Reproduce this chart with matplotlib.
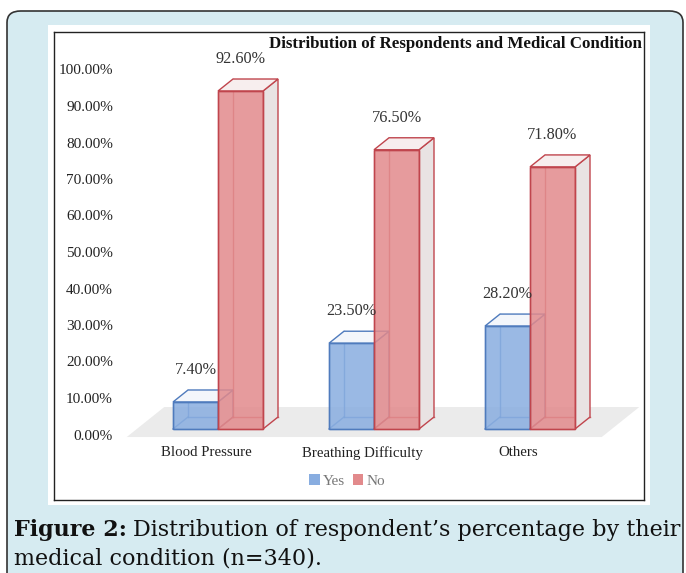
import numpy as np
import matplotlib
matplotlib.use("Agg")
import matplotlib.pyplot as plt
from matplotlib.patches import Polygon, Rectangle, FancyBboxPatch

# chart data
categories = ["Blood Pressure", "Breathing Difficulty", "Others"]
yes_pct = [7.40, 23.50, 28.20]
no_pct = [92.60, 76.50, 71.80]
series_names = ["Yes", "No"]
y_ticks = [0, 10, 20, 30, 40, 50, 60, 70, 80, 90, 100]

W, H = 686, 573
fig = plt.figure(figsize=(W / 100, H / 100), dpi=100)
fig.patch.set_facecolor("white")

# page background: rounded light blue card + white panel
fig.patches.append(FancyBboxPatch((7 / W, -0.2), 676 / W, 1.2 - 11 / H,
                                  boxstyle="round,pad=0,rounding_size=0.02",
                                  transform=fig.transFigure, facecolor="#d6ebf1",
                                  edgecolor="#333333", linewidth=1.2, zorder=0))
fig.patches.append(Rectangle((48 / W, (H - 505) / H), 602 / W, 480 / H,
                             transform=fig.transFigure, facecolor="white",
                             edgecolor="none", zorder=1))

# chart axes (frame drawn by spines)
ax_bot = 500
ax = fig.add_axes([54 / W, (H - ax_bot) / H, 590 / W, (ax_bot - 32) / H], zorder=2)
ax.set_facecolor("white")
px_x, px_y = 156.0, 3.65            # pixels per category / per percent
ax.set_xlim((54 - 218) / px_x, (644 - 218) / px_x)
ax.set_ylim((429 - ax_bot) / px_y, (429 - 32) / px_y)
ax.set_xticks([])
ax.set_yticks([])
for s in ax.spines.values():
    s.set_color("#222222")
    s.set_linewidth(1.0)

serif = "Liberation Serif"
bw = 45 / px_x                      # bar width
dx, dy = 15 / px_x, 12 / px_y       # 3D depth offset

# floor
n = len(categories)
fx0, fx1 = -0.585, n - 1 + 0.46
floor = Polygon([(fx0, -2.2), (fx1, -2.2), (fx1 + 2.5 * dx, -2.2 + 2.5 * dy),
                 (fx0 + 2.5 * dx, -2.2 + 2.5 * dy)],
                closed=True, facecolor="#ebebeb", edgecolor="none", zorder=1)
ax.add_patch(floor)


def box(x0, h, face, edge, side, top, z):
    lw = 1.0
    # back edges (seen through transparent faces)
    ax.plot([x0 + dx, x0 + dx], [dy, h + dy], color=edge, lw=lw, alpha=0.8, zorder=z)
    ax.plot([x0 + dx, x0 + bw + dx], [dy, dy], color=edge, lw=lw, alpha=0.8, zorder=z)
    ax.plot([x0, x0 + dx], [0, dy], color=edge, lw=lw, alpha=0.8, zorder=z)
    ax.add_patch(Polygon([(x0 + bw, 0), (x0 + bw + dx, dy), (x0 + bw + dx, h + dy),
                          (x0 + bw, h)], closed=True, facecolor=side,
                         edgecolor=edge, lw=lw, zorder=z + 0.1))
    ax.add_patch(Polygon([(x0, h), (x0 + dx, h + dy), (x0 + bw + dx, h + dy),
                          (x0 + bw, h)], closed=True, facecolor=top,
                         edgecolor=edge, lw=lw, zorder=z + 0.2))
    ax.add_patch(Rectangle((x0, 0), bw, h, facecolor=face, edgecolor=edge,
                           lw=lw, alpha=0.85, zorder=z + 0.3))
    ax.add_patch(Rectangle((x0, 0), bw, h, facecolor="none", edgecolor=edge,
                           lw=lw, zorder=z + 0.4))


blue_face, blue_edge = "#88ade0", "#4f7bbd"
red_face, red_edge = "#e28a8c", "#c0454d"
for i in range(n):
    box(i - bw, yes_pct[i], blue_face, blue_edge, "#e4e8ef", "#f3f6fb", 3 + i)
    box(i, no_pct[i], red_face, red_edge, "#e9e3e3", "#f7eeee", 3.5 + i)

# value labels
for i in range(n):
    for x0, v in ((i - bw, yes_pct[i]), (i, no_pct[i])):
        ax.text(x0 + bw / 2, v + dy + 20 / px_y, f"{v:.2f}%", ha="center",
                va="center", fontsize=11.7, family=serif, color="#333333", zorder=10)

# y tick labels
for t in y_ticks:
    ax.text((113 - 54) / 590, t - 7 / px_y, f"{t:.2f}%", transform=ax.get_yaxis_transform(),
            ha="right", va="center", fontsize=11, family=serif, color="#222222")

# category labels
for i, c in enumerate(categories):
    ax.text(i - 12 / px_x, -24 / px_y, c, ha="center", va="center",
            fontsize=10.7, family=serif, color="#222222")

ax.text((642 - 54) / 590, 1 - (44 - 32) / (ax_bot - 32),
        "Distribution of Respondents and Medical Condition",
        transform=ax.transAxes, ha="right", va="center", fontsize=12.2,
        family=serif, fontweight="bold", color="#111111")

handles = [Rectangle((0, 0), 1, 1, facecolor=blue_face, edgecolor="none"),
           Rectangle((0, 0), 1, 1, facecolor=red_face, edgecolor="none")]
leg = ax.legend(handles, series_names, loc="center",
                bbox_to_anchor=(0.497, (ax_bot - 481) / (ax_bot - 32)),
                ncol=2, frameon=False, handlelength=0.7, handleheight=0.7,
                handletextpad=0.2, columnspacing=0.5,
                prop={"family": serif, "size": 11})
for t in leg.get_texts():
    t.set_color("#777777")

# caption: bold lead-in followed by regular text
cap_font = "DejaVu Serif"
cap_size = 16
t1 = fig.text(14 / W, 1 - 530 / H, "Figure 2:", ha="left", va="center",
              fontsize=cap_size, family=cap_font, fontweight="bold",
              color="#111111", zorder=5)
fig.canvas.draw()
bb = t1.get_window_extent()
fig.text((bb.x1 + 6) / W, 1 - 530 / H, "Distribution of respondent’s percentage by their",
         ha="left", va="center", fontsize=cap_size, family=cap_font,
         color="#111111", zorder=5)
fig.text(14 / W, 1 - 558 / H, "medical condition (n=340).", ha="left", va="center",
         fontsize=cap_size, family=cap_font, color="#111111", zorder=5)

fig.savefig("out.png", dpi=100)
